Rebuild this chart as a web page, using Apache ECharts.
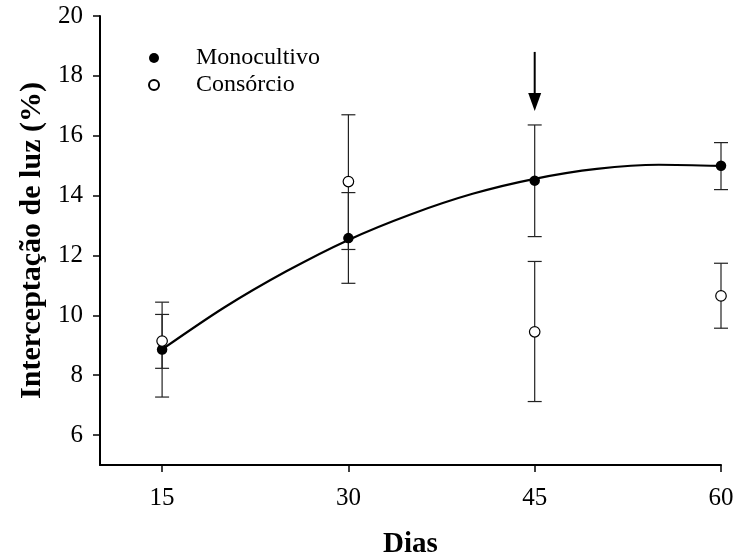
<!DOCTYPE html>
<html><head><meta charset="utf-8">
<script src="https://cdn.jsdelivr.net/npm/echarts@6/dist/echarts.min.js"></script>
<style>html,body{margin:0;padding:0;background:#fff}#c{width:736px;height:556px}</style>
</head><body><div id="c"></div>
<script>
// ---- data ----
const days = [15, 30, 45, 60];
const monoMean = [8.86, 12.58, 14.5, 15.0];
const monoLow = [7.27, 11.07, 12.63, 14.2];
const monoHigh = [10.44, 14.1, 16.36, 15.77];
const consMean = [9.14, 14.47, 9.45, 10.65];
const consLow = [8.23, 12.2, 7.12, 9.57];
const consHigh = [10.03, 16.7, 11.8, 11.74];
// regression curve (Monocultivo)
const curveX = [15, 20, 25, 30, 35, 40, 45, 50, 55, 60];
const curveY = [8.86, 10.26, 11.47, 12.52, 13.37, 14.06, 14.56, 14.89, 15.03, 14.99];
// arrow marking day 45: [x, yTop, yTip]
const arrow = [45, 18.8, 16.83];
const yTicks = [6, 8, 10, 12, 14, 16, 18, 20];
const xTicks = [15, 30, 45, 60];

const FONT = 'Liberation Serif';
const pair = (xs, ys) => xs.map((x, i) => [x, ys[i]]);
const errData = (lo, hi) => days.map((d, i) => [d, lo[i], hi[i]]);

function errRender(params, api) {
  const x = api.value(0);
  const p1 = api.coord([x, api.value(1)]);
  const p2 = api.coord([x, api.value(2)]);
  const w = 7;
  const st = { stroke: '#222', lineWidth: 1.2 };
  return {
    type: 'group',
    children: [
      { type: 'line', shape: { x1: p1[0], y1: p1[1], x2: p2[0], y2: p2[1] }, style: st },
      { type: 'line', shape: { x1: p1[0] - w, y1: p1[1], x2: p1[0] + w, y2: p1[1] }, style: st },
      { type: 'line', shape: { x1: p2[0] - w, y1: p2[1], x2: p2[0] + w, y2: p2[1] }, style: st }
    ]
  };
}

function arrowRender(params, api) {
  const x = api.value(0);
  const top = api.coord([x, api.value(1)]);
  const tip = api.coord([x, api.value(2)]);
  const h = 18, hw = 6.5;
  return {
    type: 'group',
    children: [
      { type: 'line', shape: { x1: top[0], y1: top[1], x2: tip[0], y2: tip[1] - h + 2 }, style: { stroke: '#000', lineWidth: 2 } },
      { type: 'polygon', shape: { points: [[tip[0] - hw, tip[1] - h], [tip[0] + hw, tip[1] - h], [tip[0], tip[1]]] }, style: { fill: '#000' } }
    ]
  };
}

const chart = echarts.init(document.getElementById('c'));
chart.setOption({
  animation: false,
  backgroundColor: '#fff',
  textStyle: { fontFamily: FONT, color: '#000' },
  grid: { left: 100, right: 15, top: 16, bottom: 91, containLabel: false, outerBoundsMode: 'none' },
  legend: {
    orient: 'vertical', left: 143, top: 41, itemGap: 3,
    itemWidth: 10, itemHeight: 10,
    data: [{ name: 'Monocultivo', icon: 'circle' }, { name: 'Consórcio', icon: 'circle' }],
    textStyle: { fontFamily: FONT, fontSize: 24, color: '#000', padding: [0, 0, 0, 32] }
  },
  xAxis: {
    type: 'value', min: 10, max: 60,
    name: 'Dias', nameLocation: 'middle', nameGap: 65,
    nameTextStyle: { fontFamily: FONT, fontSize: 29, fontWeight: 'bold', color: '#000' },
    axisLine: { lineStyle: { color: '#000', width: 2 } },
    axisTick: { customValues: xTicks, length: 7, lineStyle: { color: '#000', width: 1.5 } },
    axisLabel: { customValues: xTicks, fontFamily: FONT, fontSize: 25, color: '#000', margin: 21 },
    splitLine: { show: false }
  },
  yAxis: {
    type: 'value', min: 5, max: 20,
    name: 'Interceptação de luz (%)', nameLocation: 'middle', nameGap: 53,
    nameTextStyle: { fontFamily: FONT, fontSize: 30, fontWeight: 'bold', color: '#000' },
    axisLine: { show: true, lineStyle: { color: '#000', width: 2 } },
    axisTick: { show: true, customValues: yTicks, length: 7, lineStyle: { color: '#000', width: 1.5 } },
    axisLabel: { customValues: yTicks, fontFamily: FONT, fontSize: 25, color: '#000', margin: 17 },
    splitLine: { show: false }
  },
  series: [
    { type: 'custom', name: 'errMono', renderItem: errRender, data: errData(monoLow, monoHigh), z: 2, silent: true },
    { type: 'custom', name: 'errCons', renderItem: errRender, data: errData(consLow, consHigh), z: 2, silent: true },
    { type: 'line', name: 'curve', data: pair(curveX, curveY), smooth: 0.3, showSymbol: false,
      lineStyle: { color: '#000', width: 2.2 }, z: 3, silent: true },
    { type: 'scatter', name: 'Monocultivo', data: pair(days, monoMean), symbol: 'circle', symbolSize: 10.5,
      itemStyle: { color: '#000', opacity: 1 }, z: 5 },
    { type: 'scatter', name: 'Consórcio', data: pair(days, consMean), symbol: 'circle', symbolSize: 10.5,
      itemStyle: { color: '#fff', borderColor: '#000', borderWidth: 1.2, opacity: 1 }, z: 5 },
    { type: 'custom', name: 'arrow', renderItem: arrowRender, data: [arrow], z: 6, silent: true }
  ]
});
</script>
</body></html>
